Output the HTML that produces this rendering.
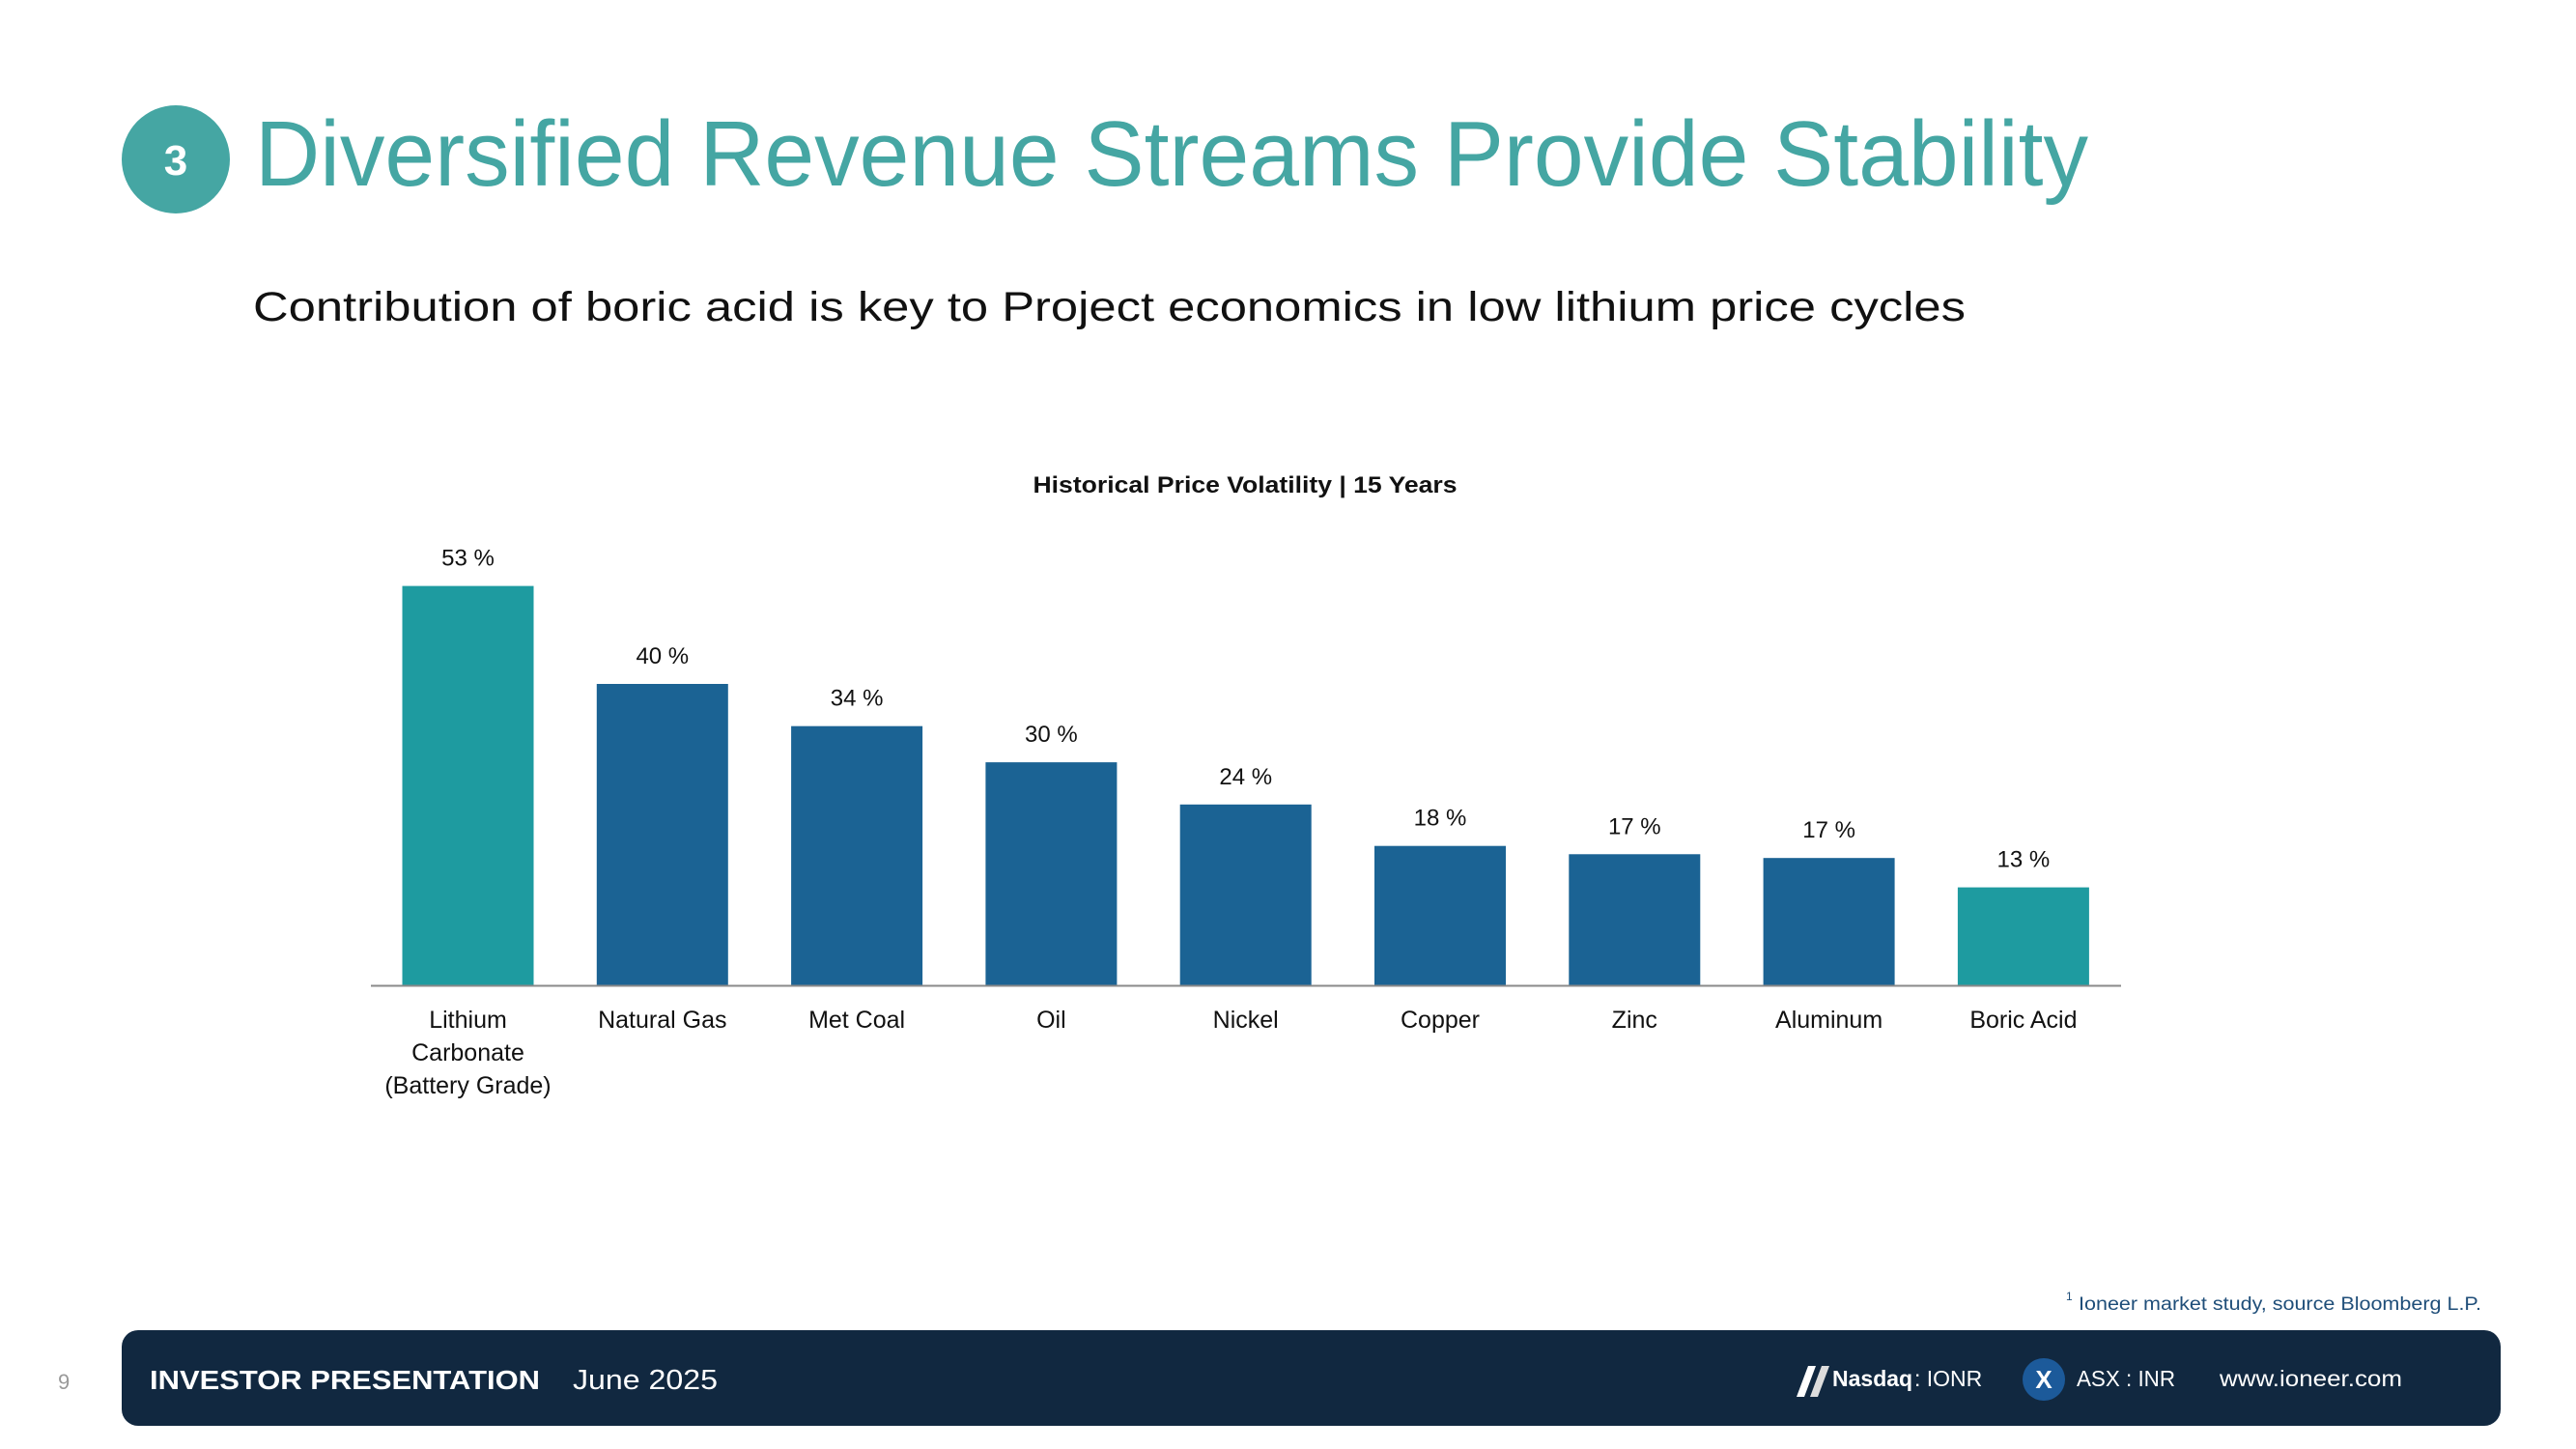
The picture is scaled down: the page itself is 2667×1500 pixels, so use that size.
<!DOCTYPE html>
<html><head><meta charset="utf-8"><style>
html,body{margin:0;padding:0;background:#fff;}
svg{display:block;font-family:"Liberation Sans",sans-serif;}
</style></head><body>
<svg id="slide" width="2667" height="1500" viewBox="0 0 2667 1500" xmlns="http://www.w3.org/2000/svg">
  <g>
    <circle cx="182" cy="165" r="56" fill="#45A6A3"/>
    <text x="182" y="181" text-anchor="middle" font-size="44" font-weight="bold" fill="#fff">3</text>
  </g>
  <text x="264" y="192" font-size="96" fill="#45A6A3" textLength="1898" lengthAdjust="spacingAndGlyphs">Diversified Revenue Streams Provide Stability</text>
  <text x="262" y="332" font-size="43" fill="#111" textLength="1773" lengthAdjust="spacingAndGlyphs">Contribution of boric acid is key to Project economics in low lithium price cycles</text>
  <text x="1289" y="510" font-size="24" font-weight="bold" text-anchor="middle" fill="#111" textLength="439" lengthAdjust="spacingAndGlyphs">Historical Price Volatility | 15 Years</text>
  <g id="chart"></g>
  <line x1="384" y1="1020.5" x2="2196" y2="1020.5" stroke="#8a8a8a" stroke-width="2"/>
  <g>
    <text x="2139" y="1346" font-size="12" fill="#1F4E79">1</text>
    <text x="2152" y="1356" font-size="19" fill="#1F4E79" textLength="417" lengthAdjust="spacingAndGlyphs">Ioneer market study, source Bloomberg L.P.</text>
  </g>
  <text x="60" y="1438" font-size="22" fill="#999">9</text>
  <g>
    <rect x="126" y="1377" width="2463" height="99" rx="17" fill="#112840"/>
    <text x="155" y="1438" font-size="28" font-weight="bold" fill="#fff" textLength="404" lengthAdjust="spacingAndGlyphs">INVESTOR PRESENTATION</text>
    <text x="593" y="1438" font-size="29" fill="#fff" textLength="150" lengthAdjust="spacingAndGlyphs">June 2025</text>
    <g>
      <polygon points="1860,1446 1872,1414 1880,1414 1868,1446" fill="#fff"/>
      <polygon points="1874,1446 1886,1414 1894,1414 1882,1446" fill="#ddd"/>
    </g>
    <text x="1897" y="1435" font-size="23" font-weight="bold" fill="#fff">Nasdaq</text>
    <text x="1982" y="1435" font-size="23" fill="#fff">: IONR</text>
    <g>
      <circle cx="2116" cy="1428" r="22" fill="#1C5A9A"/>
      <text x="2116" y="1437" font-size="26" font-weight="bold" text-anchor="middle" fill="#fff">X</text>
    </g>
    <text x="2150" y="1435" font-size="23" fill="#fff" textLength="102" lengthAdjust="spacingAndGlyphs">ASX : INR</text>
    <text x="2298" y="1435" font-size="23" fill="#fff" textLength="189" lengthAdjust="spacingAndGlyphs">www.ioneer.com</text>
  </g>
</svg>
<script>
const categories = [["Lithium","Carbonate","(Battery Grade)"],["Natural Gas"],["Met Coal"],["Oil"],["Nickel"],["Copper"],["Zinc"],["Aluminum"],["Boric Acid"]];
const values = [53, 40, 34.4, 29.6, 24, 18.5, 17.4, 16.9, 13];
const valueLabels = ["53 %","40 %","34 %","30 %","24 %","18 %","17 %","17 %","13 %"];
const highlighted = [true,false,false,false,false,false,false,false,true];

const NS = "http://www.w3.org/2000/svg";
const g = document.getElementById("chart");
const baseY = 1020, pxPerPct = 7.8, x0 = 484.5, step = 201.3, barW = 136;
function xScale(i){ return x0 + i*step; }
function yScale(v){ return baseY - v*pxPerPct; }
values.forEach((v,i)=>{
  const cx = xScale(i), top = yScale(v);
  const r = document.createElementNS(NS,"rect");
  
  
  r.setAttribute("x", cx-barW/2); r.setAttribute("y", top);
  r.setAttribute("width", barW); r.setAttribute("height", baseY-top);
  r.setAttribute("fill", highlighted[i] ? "#1E9BA0" : "#1B6394");
  g.appendChild(r);
  const t = document.createElementNS(NS,"text");
  
  
  t.setAttribute("x", cx); t.setAttribute("y", top-21);
  t.setAttribute("text-anchor","middle"); t.setAttribute("font-size","24"); t.setAttribute("fill","#111");
  t.textContent = valueLabels[i];
  g.appendChild(t);
  categories[i].forEach((line,j)=>{
    const c = document.createElementNS(NS,"text");
    
    
    c.setAttribute("x", cx); c.setAttribute("y", 1064 + j*34);
    c.setAttribute("text-anchor","middle"); c.setAttribute("font-size","25"); c.setAttribute("fill","#111");
    c.textContent = line;
    g.appendChild(c);
  });
});
</script>
</body></html>
